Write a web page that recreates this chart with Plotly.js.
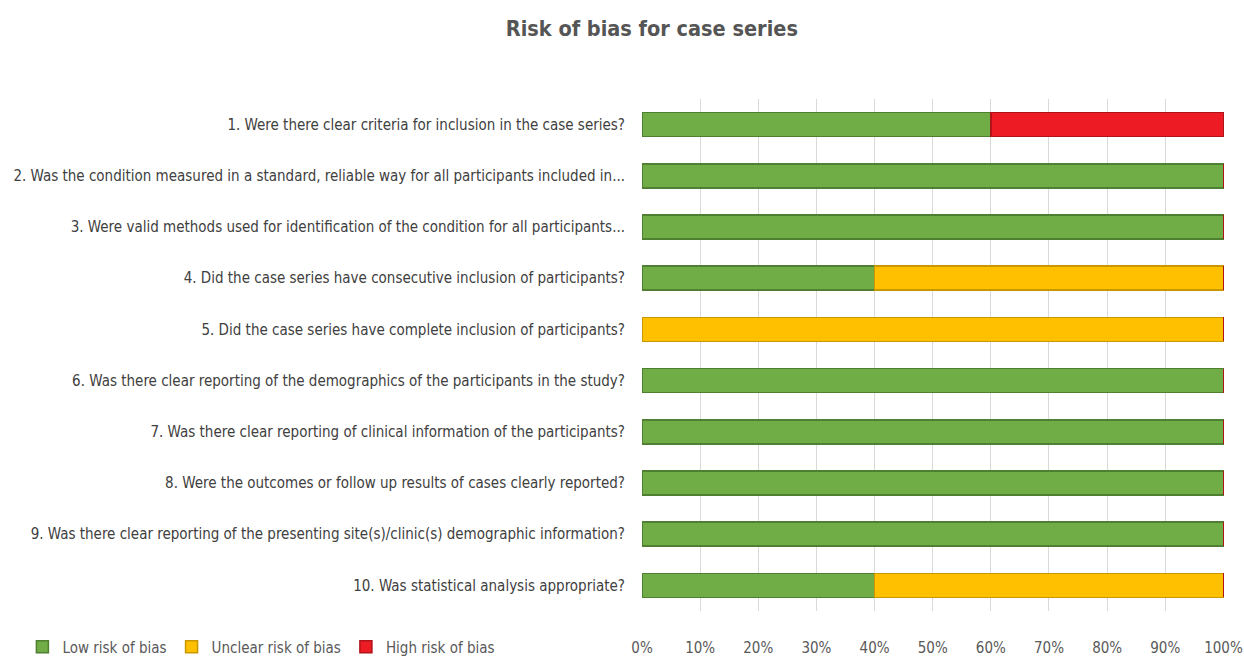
<!DOCTYPE html>
<html>
<head>
<meta charset="utf-8">
<script src="https://cdn.plot.ly/plotly-3.0.1.min.js"></script>
<style>html,body{margin:0;padding:0;background:#fff;}#chart{width:1244px;height:656px;}</style>
</head>
<body>
<div id="chart"></div>
<script>
const questions = [
  "1. Were there clear criteria for inclusion in the case series?",
  "2. Was the condition measured in a standard, reliable way for all participants included in...",
  "3. Were valid methods used for identification of the condition for all participants...",
  "4. Did the case series have consecutive inclusion of participants?",
  "5. Did the case series have complete inclusion of participants?",
  "6. Was there clear reporting of the demographics of the participants in the study?",
  "7. Was there clear reporting of clinical information of the participants?",
  "8. Were the outcomes or follow up results of cases clearly reported?",
  "9. Was there clear reporting of the presenting site(s)/clinic(s) demographic information?",
  "10. Was statistical analysis appropriate?"
];
const lowRisk     = [60, 100, 100, 40, 0, 100, 100, 100, 100, 40];
const unclearRisk = [0, 0, 0, 60, 100, 0, 0, 0, 0, 60];
const highRisk    = [40, 0, 0, 0, 0, 0, 0, 0, 0, 0];
const xTicks = [0,10,20,30,40,50,60,70,80,90,100];
const xTickLabels = ["0%","10%","20%","30%","40%","50%","60%","70%","80%","90%","100%"];

const FONT = "'Liberation Sans Narrow', 'DejaVu Sans Condensed', sans-serif";
function series(name, vals, color, edge) {
  return {
    type: 'bar', orientation: 'h', name: name,
    x: vals, y: questions, width: 0.47,
    marker: {color: color, line: {color: edge, width: 1.5}},
    hoverinfo: 'x+y'
  };
}
const data = [
  series('Low risk of bias', lowRisk, '#70ad47', '#4f7f31'),
  series('Unclear risk of bias', unclearRisk, '#ffc000', '#c99700'),
  series('High risk of bias', highRisk, '#ed1c24', '#b0141a')
];
const layout = {
  width: 1244, height: 656,
  barmode: 'stack',
  paper_bgcolor: '#fff', plot_bgcolor: '#fff',
  margin: {l: 642, r: 20, t: 99, b: 45},
  font: {family: FONT, color: '#595959', size: 15},
  title: {text: '<b>Risk of bias for case series</b>', x: 0.524, xref: 'container', xanchor: 'center',
          y: 0.957, yref: 'container', yanchor: 'middle',
          font: {family: FONT, size: 21.5, color: '#555555'}},
  xaxis: {range: [0, 100.1], tickvals: xTicks, ticktext: xTickLabels,
          showgrid: true, gridcolor: '#d9d9d9', gridwidth: 1, zeroline: false,
          showline: false, ticks: '', ticklabelstandoff: 26, automargin: false,
          ticklabeloverflow: 'allow',
          tickfont: {family: FONT, size: 15, color: '#595959'}, fixedrange: true},
  yaxis: {autorange: 'reversed', showgrid: false, zeroline: false, showline: false,
          ticks: '', ticklabelstandoff: 16, automargin: false,
          tickfont: {family: FONT, size: 15, color: '#404040'}, fixedrange: true},
  showlegend: true,
  legend: {orientation: 'h', xref: 'container', yref: 'container',
           x: 0.018, xanchor: 'left', y: 0.0137, yanchor: 'middle',
           font: {family: FONT, size: 15, color: '#595959'}, itemwidth: 30,
           traceorder: 'normal', bgcolor: 'rgba(0,0,0,0)'}
};
Plotly.newPlot('chart', data, layout, {displayModeBar: false, staticPlot: true});
</script>
</body>
</html>
